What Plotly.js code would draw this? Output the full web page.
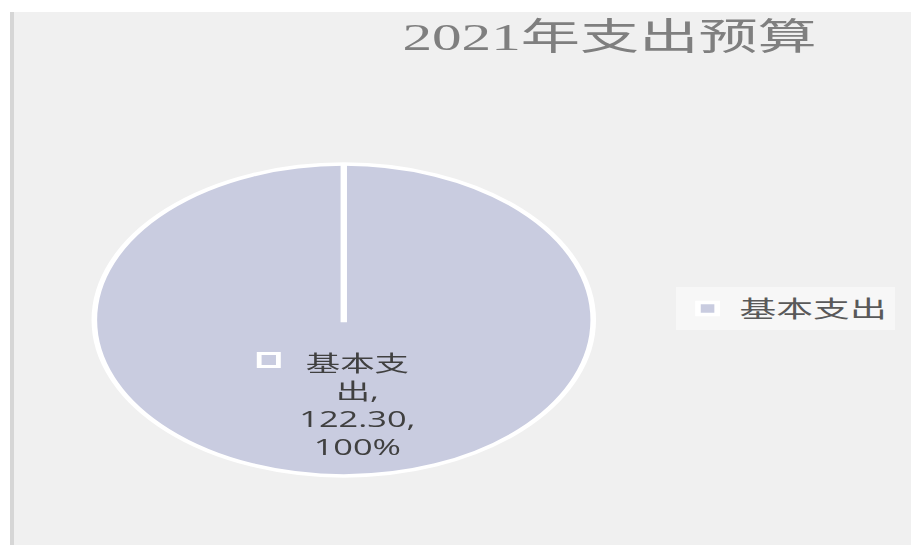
<!DOCTYPE html>
<html><head><meta charset="utf-8">
<script src="https://cdn.plot.ly/plotly-3.0.1.min.js"></script>
<style>
html,body{margin:0;padding:0;width:911px;height:545px;overflow:hidden;background:#ffffff;}
#bg{position:absolute;left:10px;top:12px;width:901px;height:533px;background:#f0f0f0;border-left:4px solid #d6d6d6;box-sizing:border-box;}
#chart{position:absolute;left:0;top:0;width:569.375px;height:545px;transform:scaleX(1.6);transform-origin:0 0;}
</style></head><body>
<div id="bg"></div><div id="chart"></div>
<script>
// ---- data ----
const chartTitle = '2021年支出预算';
const categories = ['基本支出'];
const values = [122.30];
const sliceColors = ['#c9cce0'];

// ---- layout helpers ----
const W = 569.375, H = 545;
const cx = 215, cy = 320, r = 156;
const dom = {x: [(cx - r) / W, (cx + r) / W], y: [1 - (cy + r) / H, 1 - (cy - r) / H]};
const midX = (dom.x[0] + dom.x[1]) / 2, midY = (dom.y[0] + dom.y[1]) / 2;

const total = values.reduce((a, b) => a + b, 0);
const pct = Math.round(values[0] / total * 100);
const cat = categories[0];
const labelText = cat.slice(0, 3) + '<br>' + cat.slice(3) + ',<br>' + values[0].toFixed(2) + ',<br>' + pct + '%';

const trace = {
  type: 'pie',
  labels: categories,
  values: values,
  sort: false,
  direction: 'clockwise',
  rotation: 0,
  textinfo: 'none',
  hoverinfo: 'none',
  marker: {colors: sliceColors, line: {color: '#ffffff', width: 3.5}},
  domain: dom,
  showlegend: true
};

const layout = {
  width: W, height: H,
  margin: {l: 0, r: 0, t: 0, b: 0},
  paper_bgcolor: 'rgba(0,0,0,0)',
  plot_bgcolor: 'rgba(0,0,0,0)',
  title: {
    text: chartTitle,
    x: 381 / W, xanchor: 'center', xref: 'container',
    y: 1 - 37 / H, yanchor: 'middle', yref: 'container',
    font: {family: 'Liberation Serif, Noto Sans CJK SC', size: 37, color: '#7f7f7f'}
  },
  legend: {
    x: 422.5 / W, xanchor: 'left', y: 0.434, yanchor: 'middle',
    bgcolor: '#f7f7f7', borderwidth: 0,
    font: {family: 'Noto Sans CJK SC', size: 23, color: '#595959'},
    itemwidth: 30
  },
  shapes: [
    {type: 'line', xref: 'paper', yref: 'paper', x0: midX, x1: midX, y0: midY - 0.004, y1: dom.y[1],
     line: {color: '#ffffff', width: 4}, layer: 'above'},
    {type: 'rect', xref: 'paper', yref: 'paper', x0: 162.1 / W, x1: 174.1 / W, y0: 1 - 366.5 / H, y1: 1 - 353.5 / H,
     fillcolor: sliceColors[0], line: {color: '#ffffff', width: 3}, layer: 'above'}
  ],
  annotations: [
    {text: labelText, xref: 'paper', yref: 'paper', x: 223.75 / W, y: 1 - 404 / H,
     xanchor: 'center', yanchor: 'middle', showarrow: false, align: 'center',
     font: {family: 'Open Sans, Noto Sans CJK SC', size: 21.5, color: '#404040'}}
  ]
};

Plotly.newPlot('chart', [trace], layout, {staticPlot: true, displayModeBar: false});
</script>
</body></html>
